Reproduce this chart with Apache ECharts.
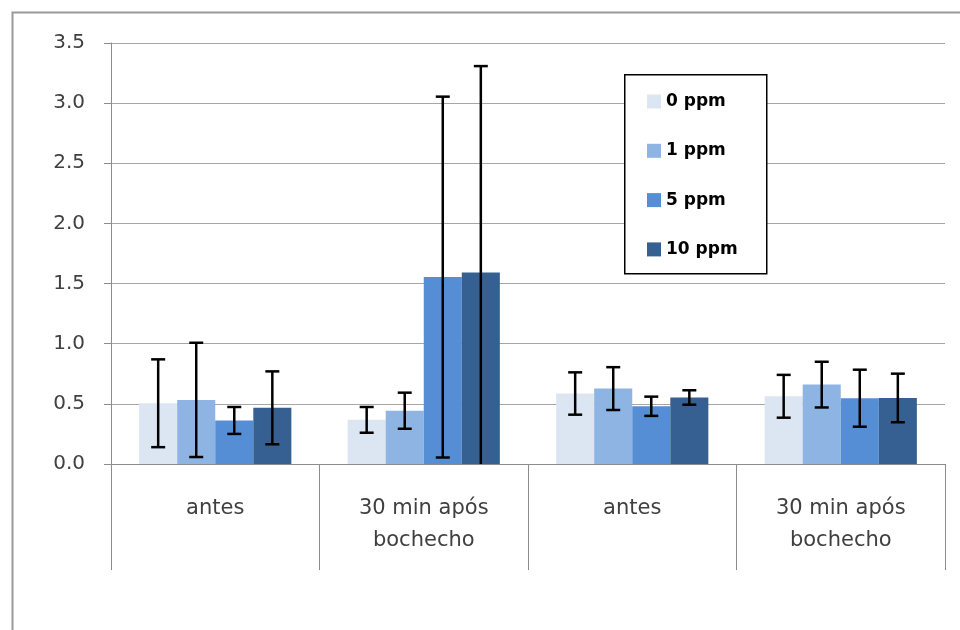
<!DOCTYPE html>
<html>
<head>
<meta charset="utf-8">
<script src="https://cdn.jsdelivr.net/npm/echarts@6/dist/echarts.min.js"></script>
<style>html,body{margin:0;padding:0;background:#fff}#c{width:960px;height:630px}</style>
</head>
<body>
<div id="c"></div>
<script>
var categories = ['antes', '30 min após\nbochecho', 'antes', '30 min após\nbochecho'];
var seriesNames = ['0 ppm', '1 ppm', '5 ppm', '10 ppm'];
var mean0 = [0.505, 0.367, 0.586, 0.563];
var mean1 = [0.533, 0.443, 0.627, 0.660];
var mean2 = [0.362, 1.554, 0.480, 0.547];
var mean3 = [0.467, 1.593, 0.553, 0.549];
var sd0 = [0.365, 0.107, 0.176, 0.178];
var sd1 = [0.475, 0.150, 0.178, 0.190];
var sd2 = [0.112, 1.500, 0.080, 0.237];
var sd3 = [0.303, 1.715, 0.060, 0.202];
var yTicks = [0, 0.5, 1.0, 1.5, 2.0, 2.5, 3.0, 3.5];

var means = [mean0, mean1, mean2, mean3];
var sds = [sd0, sd1, sd2, sd3];
var colors = ['#dce6f2', '#8eb4e3', '#558ed5', '#376092'];
var catGap = 0.27;
var nSeries = means.length;

var font = "'DejaVu Sans', 'Noto Sans', sans-serif";

var series = [];
means.forEach(function (m, i) {
  series.push({
    name: seriesNames[i],
    type: 'bar',
    data: m,
    barGap: '0%',
    barCategoryGap: (catGap * 100) + '%',
    itemStyle: { color: colors[i] },
    silent: true
  });
});
means.forEach(function (m, i) {
  var data = m.map(function (v, k) {
    return [k, Math.max(0, v - sds[i][k]), v + sds[i][k], (v - sds[i][k]) < 0 ? 1 : 0];
  });
  series.push({
    type: 'custom',
    silent: true,
    z: 10,
    data: data,
    encode: { x: 0, y: [1, 2] },
    renderItem: function (params, api) {
      var idx = api.value(0);
      var lo = api.coord([idx, api.value(1)]);
      var hi = api.coord([idx, api.value(2)]);
      var catW = api.size([1, 0])[0];
      var bw = catW * (1 - catGap) / nSeries;
      var x = lo[0] + (i - (nSeries - 1) / 2) * bw;
      var cap = 7;
      var st = { stroke: '#000', lineWidth: 2.5 };
      var children = [
        { type: 'line', shape: { x1: x, y1: lo[1], x2: x, y2: hi[1] }, style: st },
        { type: 'line', shape: { x1: x - cap, y1: hi[1], x2: x + cap, y2: hi[1] }, style: st }
      ];
      if (!api.value(3)) {
        children.push({ type: 'line', shape: { x1: x - cap, y1: lo[1], x2: x + cap, y2: lo[1] }, style: st });
      }
      return { type: 'group', children: children };
    }
  });
});

var chart = echarts.init(document.getElementById('c'), null, { renderer: 'canvas' });
chart.setOption({
  animation: false,
  backgroundColor: '#fff',
  graphic: [
    { type: 'rect', left: 10, top: 10, shape: { width: 980, height: 660 }, style: { fill: 'none', stroke: '#9a9a9a', lineWidth: 2 }, z: -1 },
    { type: 'rect', left: 624, top: 74, shape: { width: 142, height: 199 }, style: { fill: '#fff', stroke: '#000', lineWidth: 1.5 }, z: 5 }
  ],
  legend: {
    orient: 'vertical',
    left: 642,
    top: 88,
    itemWidth: 14,
    itemHeight: 14,
    itemGap: 32.3,
    icon: 'rect',
    z: 20,
    textStyle: { fontFamily: font, fontWeight: 'bold', fontSize: 17, lineHeight: 14, color: '#000' },
    data: seriesNames
  },
  grid: { left: 111, right: 15, top: 43, bottom: 166, containLabel: false },
  xAxis: {
    type: 'category',
    data: categories,
    boundaryGap: true,
    axisLine: { show: true, lineStyle: { color: '#8c8c8c', width: 1 } },
    axisTick: { show: true, length: 106, lineStyle: { color: '#8c8c8c', width: 1 } },
    axisLabel: { interval: 0, margin: 29, fontFamily: font, fontSize: 21, lineHeight: 32, color: '#404040' }
  },
  yAxis: {
    type: 'value',
    min: 0,
    max: 3.5,
    interval: 0.5,
    axisLine: { show: true, lineStyle: { color: '#8c8c8c', width: 1 } },
    axisTick: { show: true, length: 7, lineStyle: { color: '#8c8c8c' } },
    splitLine: { show: true, lineStyle: { color: '#a6a6a6', width: 1 } },
    axisLabel: {
      margin: 26,
      fontFamily: font,
      fontSize: 20,
      color: '#404040',
      formatter: function (v) { return yTicks.indexOf(v) >= 0 ? v.toFixed(1) : ''; }
    }
  },
  series: series
});
</script>
</body>
</html>
